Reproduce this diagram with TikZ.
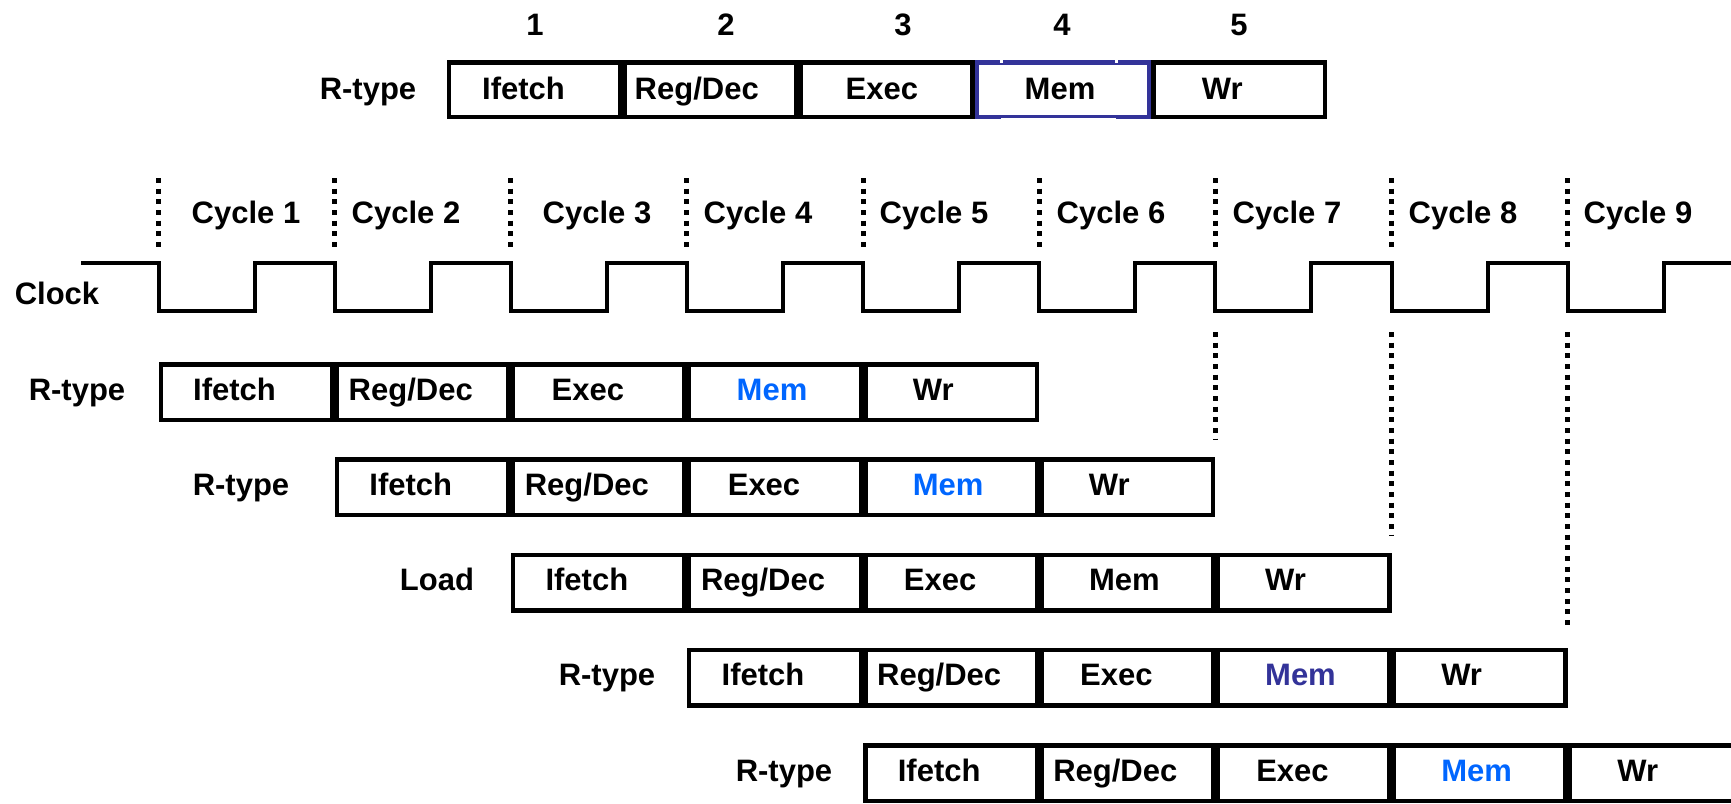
\documentclass[tikz,border=0pt]{standalone}
\usepackage{fontspec}
\setmainfont{Liberation Sans}
\definecolor{memblue}{RGB}{0,102,255}
\definecolor{darkblue}{RGB}{51,51,153}
\begin{document}
\begin{tikzpicture}[x=1pt,y=-1pt,
  lbl/.style={font=\fontsize{31}{36}\selectfont\bfseries, inner sep=0pt, anchor=base},
  stage/.style={draw, line width=4.5pt, minimum width=171.65pt, minimum height=55.5pt, inner sep=0pt},
  clk/.style={line width=4pt, line join=miter},
  dots/.style={line width=5pt, dash pattern=on 5pt off 5.67pt}
]
\useasboundingbox (0,0) rectangle (1731,803);
\clip (0,0) rectangle (1731,803);

% step numbers
\foreach \n/\x in {1/535,2/726,3/903,4/1062,5/1239}{
  \node[lbl] (num\n) at (\x,35) {\n};
}
% top reference row
\node[lbl] (toplab) at (368,99) {R-type};
\foreach \k/\txt/\dx in {0/Ifetch/-11,1/{Reg/Dec}/-14,2/Exec/-5,3/Mem/-3,4/Wr/-17}{
  \pgfmathsetmacro\cx{446.5+176.15*\k+88.075}
  \ifnum\k=3
    \node[stage, draw=darkblue, minimum height=54.5pt] (top\k) at (\cx,89.5) {};
  \else
    \node[stage, minimum height=54.5pt] (top\k) at (\cx,89.5) {};
  \fi
  \node[lbl] (toptxt\k) at (\cx+\dx,99) {\txt};
}
% small gaps in the Mem box border
\fill[white] (1000,57) rectangle (1003,63);
\fill[white] (1115,57) rectangle (1118,63);
\fill[white] (1001,117.5) rectangle (1116,120);

% cycle separators and labels
\foreach \j in {0,...,8}{
  \pgfmathsetmacro\bx{158.5+176.15*\j}
  \draw[dots] (\bx,178) -- (\bx,250);
}
\foreach \n/\x in {1/246,2/406,3/597,4/758,5/934,6/1111,7/1287,8/1463,9/1638}{
  \node[lbl] (cyc\n) at (\x,223) {Cycle \n};
}

% clock
\node[lbl] (clock) at (57,304) {Clock};
\draw[clk] (81,263)
  \foreach \j in {0,...,8}{
    -- ({158.5+176.15*\j},263) -- ({158.5+176.15*\j},311)
    -- ({254.5+176.15*\j},311) -- ({254.5+176.15*\j},263)
  } -- (1731,263);

% pipelined instructions
\foreach \r/\memc/\lab/\lx in {0/memblue/R-type/77,1/memblue/R-type/241,2/black/Load/437,3/darkblue/R-type/607,4/memblue/R-type/784}{
  \pgfmathsetmacro\cy{362+95.3*\r+30}
  \node[lbl] (lab\r) at (\lx,\cy+8) {\lab};
  \foreach \k/\txt/\dx in {0/Ifetch/-12,1/{Reg/Dec}/-12,2/Exec/-11,3/Mem/-3,4/Wr/-18}{
    \pgfmathsetmacro\cx{158.5+176.15*(\r+\k)+88.075}
    \def\tc{black}
    \ifnum\k=3 \let\tc\memc \fi
    \node[stage] (b\r-\k) at (\cx,\cy) {};
    \node[lbl, text=\tc] (t\r-\k) at (\cx+\dx,\cy+8) {\txt};
  }
}

% dotted guides below the clock
\foreach \j/\ye in {6/439,7/535,8/630}{
  \pgfmathsetmacro\bx{158.5+176.15*\j}
  \draw[dots] (\bx,332) -- (\bx,\ye);
}
\end{tikzpicture}
\end{document}
